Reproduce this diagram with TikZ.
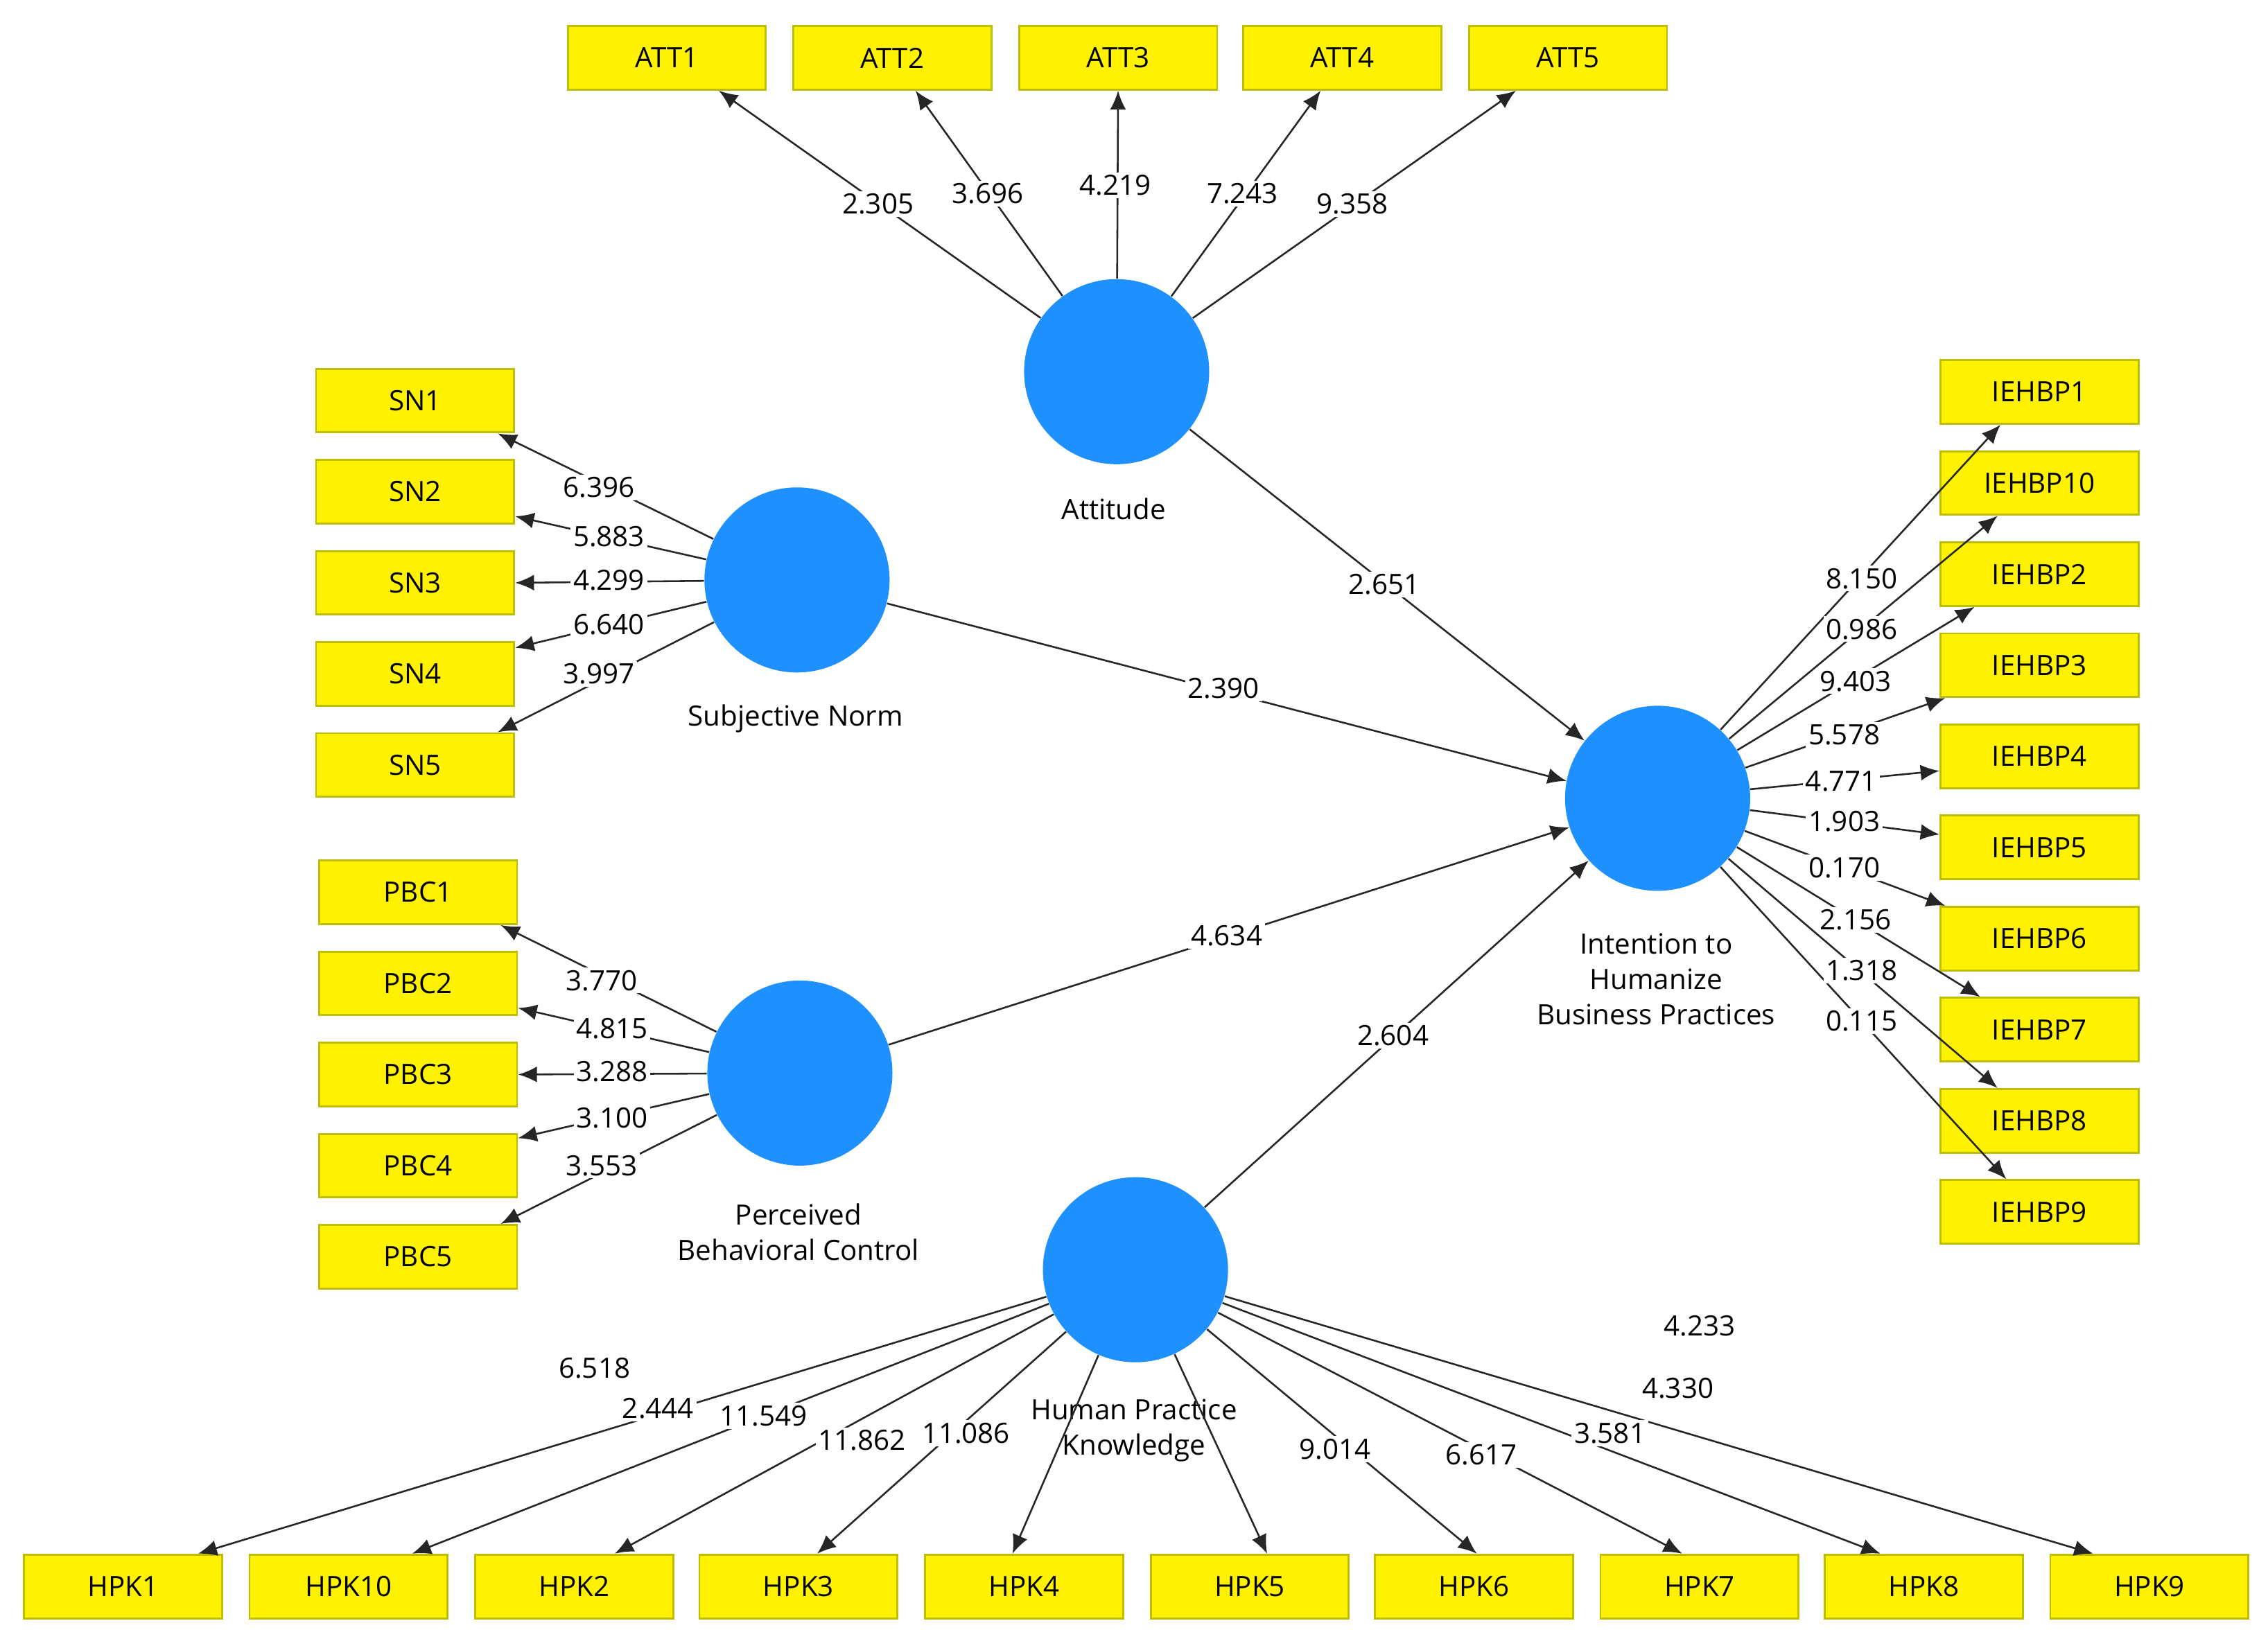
\documentclass[tikz,border=0pt]{standalone}
\usepackage{fontspec}
\setmainfont{Open Sans}
\usetikzlibrary{arrows.meta,calc}
\definecolor{cblue}{RGB}{30,144,255}
\definecolor{bedge}{RGB}{190,190,0}
\begin{document}
\begin{tikzpicture}[x=0.02cm,y=-0.02cm,
  box/.style={draw=bedge,fill=yellow,line width=0.8pt,minimum width=2.74cm,minimum height=0.88cm,inner sep=0pt,font=\fontsize{11}{13}\selectfont},
  lv/.style={circle,fill=cblue,minimum size=2.56cm,inner sep=0pt},
  arr/.style={draw=black!85,line width=0.7pt,-{Latex[length=0.26cm,width=0.22cm]}},
  lab/.style={fill=white,inner sep=1pt,font=\fontsize{11}{13}\selectfont},
  nm/.style={align=center,font=\fontsize{11}{14}\selectfont}]
\useasboundingbox (0,0) rectangle (1568,1133);
% latent variables
\node[lv] (att) at (772,257) {};
\node[lv] (sn) at (551,401) {};
\node[lv] (pbc) at (553,742) {};
\node[lv] (int) at (1146,552) {};
\node[lv] (hpk) at (785,878) {};
\node[nm] (attn) at (770,352) {Attitude};
\node[nm] (snn) at (550,497) {Subjective Norm};
\node[nm] (pbcn) at (552,852) {Perceived\\Behavioral Control};
\node[nm] (intn) at (1145,677) {Intention to\\Humanize\\Business Practices};
\node[nm] (hpkn) at (784,989) {Human Practice\\Knowledge};
% boxes
\foreach \i/\x in {1/461,2/617,3/773,4/928,5/1084} \node[box] (att\i) at (\x,40) {ATT\i};
\foreach \i/\y in {1/277,2/340,3/403,4/466,5/529} \node[box] (sn\i) at (287,\y) {SN\i};
\foreach \i/\y in {1/617,2/680,3/743,4/806,5/869} \node[box] (pbc\i) at (289,\y) {PBC\i};
\foreach \i/\n/\y in {1/1/271,10/10/334,2/2/397,3/3/460,4/4/523,5/5/586,6/6/649,7/7/712,8/8/775,9/9/838} \node[box] (ieh\i) at (1410,\y) {IEHBP\n};
\foreach \i/\x in {1/85,10/241,2/397,3/552,4/708,5/864,6/1019,7/1175,8/1330,9/1486} \node[box] (hpk\i) at (\x,1097) {HPK\i};
% outer arrows
\draw[arr] (att) -- ($(att1.south)+(36,0)$);
\draw[arr] (att) -- ($(att2.south)+(16,0)$);
\draw[arr] (att) -- (att3.south);
\draw[arr] (att) -- ($(att4.south)+(-15,0)$);
\draw[arr] (att) -- ($(att5.south)+(-36,0)$);
\draw[arr] (sn) -- ($(sn1.south east)+(-12,0)$);
\draw[arr] (sn) -- ($(sn2.east)+(0,17)$);
\draw[arr] (sn) -- (sn3.east);
\draw[arr] (sn) -- ($(sn4.east)+(0,-18)$);
\draw[arr] (sn) -- ($(sn5.north east)+(-12,0)$);
\draw[arr] (pbc) -- ($(pbc1.south east)+(-12,0)$);
\draw[arr] (pbc) -- ($(pbc2.east)+(0,17)$);
\draw[arr] (pbc) -- (pbc3.east);
\draw[arr] (pbc) -- ($(pbc4.east)+(0,-19)$);
\draw[arr] (pbc) -- ($(pbc5.north east)+(-12,0)$);
\draw[arr] (int) -- ($(ieh1.south)+(-27,0)$);
\draw[arr] (int) -- ($(ieh10.south)+(-29,0)$);
\draw[arr] (int) -- ($(ieh2.south)+(-45,0)$);
\draw[arr] (int) -- ($(ieh3.south west)+(4,0)$);
\draw[arr] (int) -- ($(ieh4.west)+(0,10)$);
\draw[arr] (int) -- ($(ieh5.west)+(0,-9)$);
\draw[arr] (int) -- ($(ieh6.north west)+(4,0)$);
\draw[arr] (int) -- ($(ieh7.north)+(-41,0)$);
\draw[arr] (int) -- ($(ieh8.north)+(-29,0)$);
\draw[arr] (int) -- ($(ieh9.north)+(-23,0)$);
\foreach \i/\d in {1/52,10/44,2/28,3/13,4/-8,5/12,6/2,7/-12,8/-30,9/-39}
  \draw[arr] (hpk) -- ($(hpk\i.north)+(\d,0)$);
% structural arrows
\draw[arr] (att) -- (int);
\draw[arr] (sn) -- ($(int.center)+(-63,-12)$);
\draw[arr] (pbc) -- ($(int.center)+(-61,20)$);
\draw[arr] (hpk) -- (int);
% labels
\foreach \t/\x/\y [count=\k] in {2.305/607/141,3.696/683/134,4.219/771/128,7.243/859/134,9.358/935/141,
 6.396/414/337,5.883/421/371,4.299/421/401,6.640/421/432,3.997/414/466,
 3.770/416/678,4.815/423/711,3.288/423/741,3.100/423/773,3.553/416/806,
 8.150/1287/400,0.986/1287/435,9.403/1283/471,5.578/1275/508,4.771/1273/540,1.903/1275/568,0.170/1275/600,2.156/1283/636,1.318/1287/671,0.115/1287/706,
 6.518/411/946,2.444/455/974,11.549/528/979,11.862/596/996,11.086/668/991,9.014/923/1002,6.617/1024/1006,3.581/1113/991,4.330/1160/960,4.233/1175/917,
 2.651/957/404,2.390/846/476,4.634/848/647,2.604/963/716}
  \node[lab] (lab\k) at (\x,\y) {\t};
\end{tikzpicture}
\end{document}
